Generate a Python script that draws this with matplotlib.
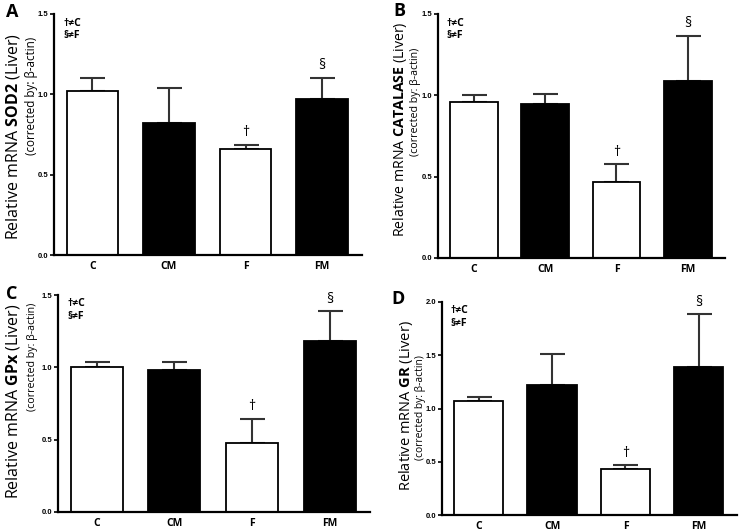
import matplotlib
matplotlib.use("Agg")
import matplotlib.pyplot as plt
import numpy as np

plt.rcParams['font.family'] = ['Open Sans', 'DejaVu Sans']
plt.rcParams['mathtext.fontset'] = 'custom'
plt.rcParams['mathtext.rm'] = 'Open Sans'
plt.rcParams['mathtext.bf'] = 'Open Sans:bold'

categories = ["C", "CM", "F", "FM"]
colors = ["white", "black", "white", "black"]

sod2_mean = [1.02, 0.82, 0.66, 0.97]
sod2_top = [1.10, 1.04, 0.685, 1.10]
cat_mean = [0.96, 0.945, 0.465, 1.09]
cat_top = [1.00, 1.01, 0.575, 1.365]
gpx_mean = [1.00, 0.98, 0.48, 1.18]
gpx_top = [1.04, 1.04, 0.645, 1.39]
gr_mean = [1.075, 1.22, 0.43, 1.385]
gr_top = [1.105, 1.51, 0.465, 1.885]

panels = [
    dict(letter="A", gene="SOD2", mean=sod2_mean, top=sod2_top, ymax=1.5,
         yticks=[0.0, 0.5, 1.0, 1.5], box=(54, 14, 362, 255),
         big=(13, 136), bigfs=11.5, small=(32, 96), smallfs=8.4, let=(12, 12)),
    dict(letter="B", gene="CATALASE", mean=cat_mean, top=cat_top, ymax=1.5,
         yticks=[0.0, 0.5, 1.0, 1.5], box=(438, 14, 725, 258),
         big=(400, 129), bigfs=10.2, small=(415, 102), smallfs=7.7, let=(399, 11)),
    dict(letter="C", gene="GPx", mean=gpx_mean, top=gpx_top, ymax=1.5,
         yticks=[0.0, 0.5, 1.0, 1.5], box=(58, 295, 370, 512),
         big=(13, 401), bigfs=11.5, small=(33, 357), smallfs=7.7, let=(12, 294)),
    dict(letter="D", gene="GR", mean=gr_mean, top=gr_top, ymax=2.0,
         yticks=[0.0, 0.5, 1.0, 1.5, 2.0], box=(442, 302, 737, 515),
         big=(406, 406), bigfs=10.5, small=(421, 408), smallfs=7.4, let=(398, 299)),
]

W, H = 740, 531
fig = plt.figure(figsize=(W / 100, H / 100), dpi=100)

for p in panels:
    l, t, r, b = p["box"]
    ax = fig.add_axes([l / W, 1 - b / H, (r - l) / W, (b - t) / H])
    x = np.arange(len(categories))
    mean = np.array(p["mean"])
    top = np.array(p["top"])
    ax.errorbar(x, mean, yerr=[np.zeros(4), top - mean], fmt="none",
                ecolor="#333333", elinewidth=1.5, capsize=9, capthick=1.5, zorder=1)
    ax.bar(x, mean, width=0.67, color=colors, edgecolor="black", linewidth=1.3, zorder=2)
    ax.set_xlim(-0.5, 3.52)
    ax.set_ylim(0, p["ymax"])
    ax.set_yticks(p["yticks"])
    ax.set_yticklabels([f"{v:.1f}" for v in p["yticks"]], fontsize=5.5,
                       fontweight="bold", family=["Liberation Sans"])
    ax.set_xticks(x)
    ax.set_xticklabels(categories, fontsize=7.5, fontweight="bold")
    ax.tick_params(axis="x", length=0, pad=4)
    ax.tick_params(axis="y", length=3, width=1.2, pad=1)
    for s in ["top", "right"]:
        ax.spines[s].set_visible(False)
    for s in ["left", "bottom"]:
        ax.spines[s].set_linewidth(1.6)
    # significance marks
    ax.text(2, top[2] + 0.02 * p["ymax"], "†", ha="center", va="bottom", fontsize=10)
    ax.text(3, top[3] + 0.02 * p["ymax"], "§", ha="center", va="bottom", fontsize=10)
    ax.text(0.03, 0.985, "†≠C\n§≠F", transform=ax.transAxes, ha="left", va="top",
            fontsize=7.5, fontweight="bold", linespacing=1.2)
    # labels
    bx, by = p["big"]
    fig.text(bx / W, 1 - by / H, r"Relative mRNA $\mathbf{" + p["gene"] + r"}$ (Liver)",
             rotation=90, ha="center", va="center", fontsize=p["bigfs"])
    sx, sy = p["small"]
    fig.text(sx / W, 1 - sy / H, "(corrected by: β-actin)", rotation=90,
             ha="center", va="center", fontsize=p["smallfs"])
    lx, ly = p["let"]
    fig.text(lx / W, 1 - ly / H, p["letter"], ha="center", va="center",
             fontsize=13, fontweight="bold")

fig.savefig("out.png", dpi=100)
